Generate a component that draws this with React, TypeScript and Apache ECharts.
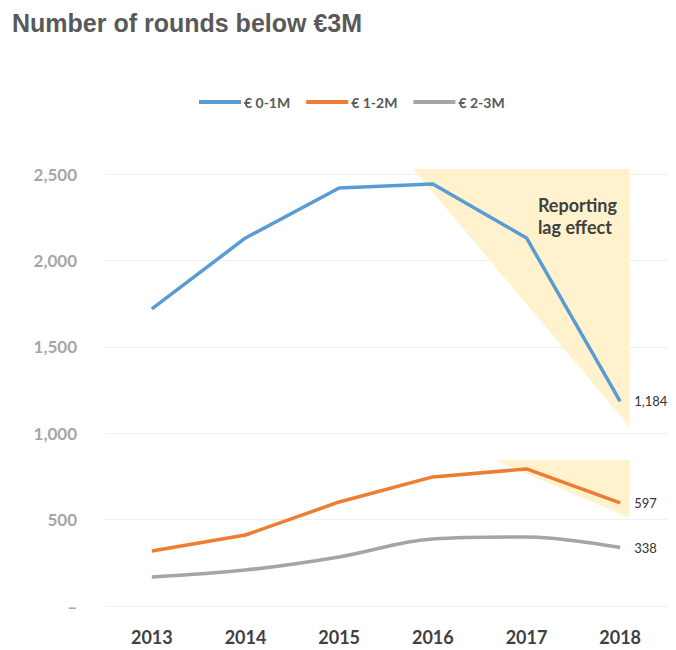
import React, { useEffect, useRef } from "react";
import * as echarts from "echarts";

const years = ["2013", "2014", "2015", "2016", "2017", "2018"];
const seriesNames = ["€ 0-1M", "€ 1-2M", "€ 2-3M"];
const round0to1 = [1719, 2130, 2419, 2442, 2130, 1184];
const round1to2 = [318, 411, 602, 747, 793, 597];
const round2to3 = [168, 208, 284, 388, 399, 338];
const colors = ["#5B9BD5", "#ED7D31", "#A5A5A5"];
const yTicks = { min: 0, max: 2500, interval: 500 };
// reporting-lag triangles: [category position, value]
const lagBig: number[][] = [[2.79, 2529], [5.1, 2529], [5.1, 1036]];
const lagSmall: number[][] = [[3.66, 845], [5.1, 845], [5.1, 509]];
const lagTriangles = [lagBig, lagSmall];

export default function App() {
  const ref = useRef<HTMLDivElement>(null);
  useEffect(() => {
    if (!ref.current) return;
    const chart = echarts.init(ref.current, undefined, { renderer: "svg" });
    const font = "Lato, 'Open Sans', sans-serif";
    const lineSeries = [round0to1, round1to2, round2to3].map((d, i) => ({
      name: seriesNames[i],
      type: "line",
      data: d,
      symbol: "none",
      smooth: i === 2 ? 0.35 : false,
      z: 3,
      lineStyle: { color: colors[i], width: 3.5 },
      itemStyle: { color: colors[i] },
      endLabel: {
        show: true,
        formatter: (p: any) => Number(p.value).toLocaleString("en-US"),
        color: "#333333",
        fontSize: 13,
        fontFamily: font,
        distance: 14,
      },
    }));
    chart.setOption({
      animation: false,
      backgroundColor: "#ffffff",
      title: {
        text: "Number of rounds below €3M",
        left: 4,
        top: 2,
        padding: 0,
        textStyle: {
          fontFamily: "'Liberation Sans', Arial, sans-serif",
          fontWeight: "bold",
          fontSize: 25,
          color: "#595959",
        },
      },
      legend: {
        data: seriesNames,
        left: 186,
        top: 82,
        icon: "rect",
        itemWidth: 42,
        itemHeight: 4,
        itemGap: 16,
        textStyle: {
          fontFamily: font,
          fontWeight: "bold",
          fontSize: 14,
          color: "#595959",
          padding: [0, 0, 0, -2],
        },
      },
      grid: { left: 97, right: 9, top: 166, bottom: 44 },
      xAxis: [
        {
          type: "category",
          data: years,
          boundaryGap: true,
          axisLine: { show: false },
          axisTick: { show: false },
          axisLabel: {
            margin: 22,
            fontFamily: font,
            fontWeight: "bold",
            fontSize: 18,
            color: "#404040",
          },
        },
        { type: "value", min: -0.5, max: 5.5, show: false },
      ],
      yAxis: {
        type: "value",
        ...yTicks,
        axisLine: { show: false },
        axisTick: { show: false },
        splitLine: { lineStyle: { color: "#EFEFEF", width: 1 } },
        axisLabel: {
          margin: 28,
          fontFamily: font,
          fontWeight: "bold",
          fontSize: 17,
          color: "#A6A6A6",
          formatter: (v: number) => (v === 0 ? "–" : v.toLocaleString("en-US")),
        },
      },
      series: [
        {
          type: "custom",
          xAxisIndex: 1,
          z: 1,
          silent: true,
          data: lagTriangles.map((t) => t[0]),
          renderItem: (params: any, api: any) => {
            const tri = lagTriangles[params.dataIndex];
            return {
              type: "polygon",
              shape: { points: tri.map((p) => api.coord(p)) },
              style: { fill: "#FFF2CC" },
            };
          },
        },
        ...lineSeries,
      ],
      graphic: [
        {
          type: "text",
          right: 59,
          top: 186,
          style: {
            text: "Reporting\nlag effect",
            align: "right",
            fontFamily: font,
            fontWeight: "bold",
            fontSize: 18,
            lineHeight: 22,
            fill: "#404040",
          },
          z: 10,
        },
      ],
    });
    return () => chart.dispose();
  }, []);
  return <div ref={ref} style={{ width: 668, height: 642 }} />;
}
